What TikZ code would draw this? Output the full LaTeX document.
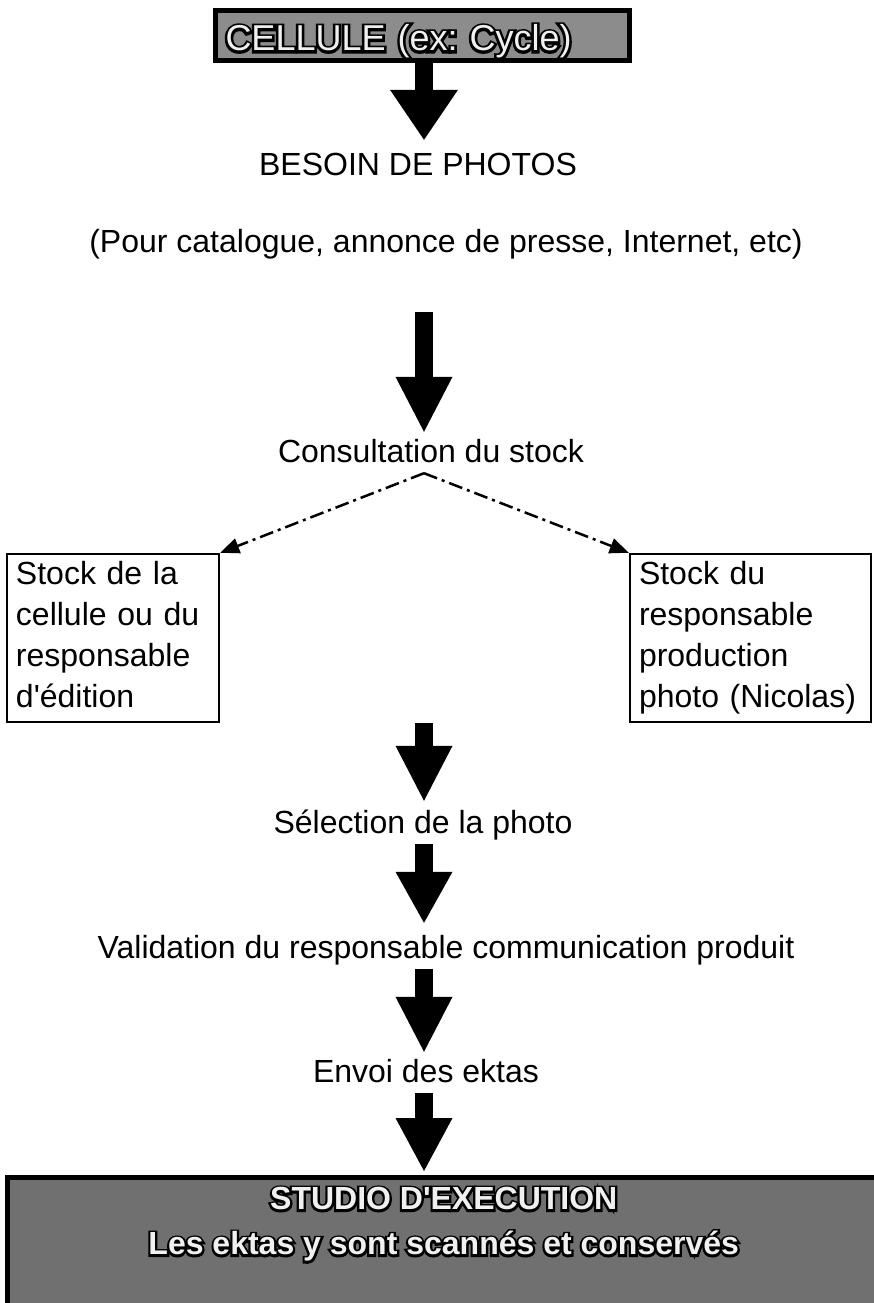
\documentclass[tikz,border=0pt]{standalone}
\usepackage{fontspec}
\setmainfont{Liberation Sans}
\newfontfamily\fatfont[FakeBold=14]{Liberation Sans}
\usepackage{xcolor}
\usepackage{tikz}
\usetikzlibrary{positioning,arrows.meta}

\newcommand{\hollow}[1]{{\rlap{\fatfont\color{black}#1}\color{gray!12}#1}}
\frenchspacing

\begin{document}
\begin{tikzpicture}[x=1pt, y=-1pt,
    flowtext/.style={font=\fontsize{32}{38}\selectfont, inner sep=4pt, text height=23pt, text depth=7pt, anchor=base},
    cellbox/.style={draw, line width=5pt, fill=black!45, minimum width=414pt, minimum height=50pt, inner xsep=10pt, text width=394pt, align=left, font=\fontsize{36}{40}\selectfont, text height=31pt, text depth=0pt},
    stockbox/.style={draw, line width=2.5pt, minimum width=212pt, minimum height=168pt, inner xsep=9pt, text width=194pt, align=left, font=\fontsize{32}{41}\selectfont},
    studiobox/.style={draw, line width=5pt, fill=black!56, minimum width=872.5pt, minimum height=132.5pt, align=center, font=\fontsize{32}{45}\selectfont\bfseries},
    blockarrow/.style={line width=18pt, -{Triangle[length=55pt, width=57pt, line width=0pt]}},
    dashlink/.style={line width=2.5pt, dash pattern=on 14pt off 5pt on 3pt off 5pt, -{Triangle[length=19pt, width=16pt, line width=0pt]}}]
\useasboundingbox (0,0) rectangle (873,1303);

\coordinate (axis) at (424,0);

\node[cellbox] (cellule) at (422.5,35.5) {\hollow{CELLULE (ex: Cycle)}};
\node[flowtext] (besoin) at (418,175) {BESOIN DE PHOTOS};
\node[flowtext] (usage) at (446,252) {(Pour catalogue, annonce de presse, Internet, etc)};
\node[flowtext] (consult) at (431,462) {Consultation du stock};
\node[stockbox] (stockcell) at (113,638) {Stock de la\\cellule ou du\\responsable\\d\textquotesingle édition\rule[-7pt]{0pt}{7pt}};
\node[stockbox, minimum width=241pt, text width=223pt] (stockprod) at (750.5,638) {Stock du\\responsable\\production\\photo (Nicolas)};
\node[flowtext] (selection) at (423,833) {Sélection de la photo};
\node[flowtext] (validation) at (446,958) {Validation du responsable communication produit};
\node[flowtext] (envoi) at (426,1082) {Envoi des ektas};
\node[studiobox] (studio) at (443.75,1243.75) {\hollow{STUDIO D\textquotesingle EXECUTION}\\\hollow{Les ektas y sont scannés et conservés}\rule[-45pt]{0pt}{45pt}};

\draw[blockarrow, -{Triangle[length=50pt, width=68pt, line width=0pt]}, shorten >=8pt] (cellule.south -| axis) -- (besoin.north -| axis);
\draw[blockarrow, shorten <=49pt, shorten >=3pt] (usage.south -| axis) -- (consult.north -| axis);
\draw[dashlink] (consult.south -| axis) -- (stockcell.north east);
\draw[dashlink] (consult.south -| axis) -- (stockprod.north west);
\draw[blockarrow, shorten >=5pt] (stockcell.south -| axis) -- (selection.north -| axis);
\draw[blockarrow, -{Triangle[length=51pt, width=57pt, line width=0pt]}, shorten >=8pt] (selection.south -| axis) -- (validation.north -| axis);
\draw[blockarrow, shorten >=3pt] (validation.south -| axis) -- (envoi.north -| axis);
\draw[blockarrow, -{Triangle[length=53pt, width=57pt, line width=0pt]}, shorten >=4pt] (envoi.south -| axis) -- (studio.north -| axis);

\end{tikzpicture}
\end{document}
